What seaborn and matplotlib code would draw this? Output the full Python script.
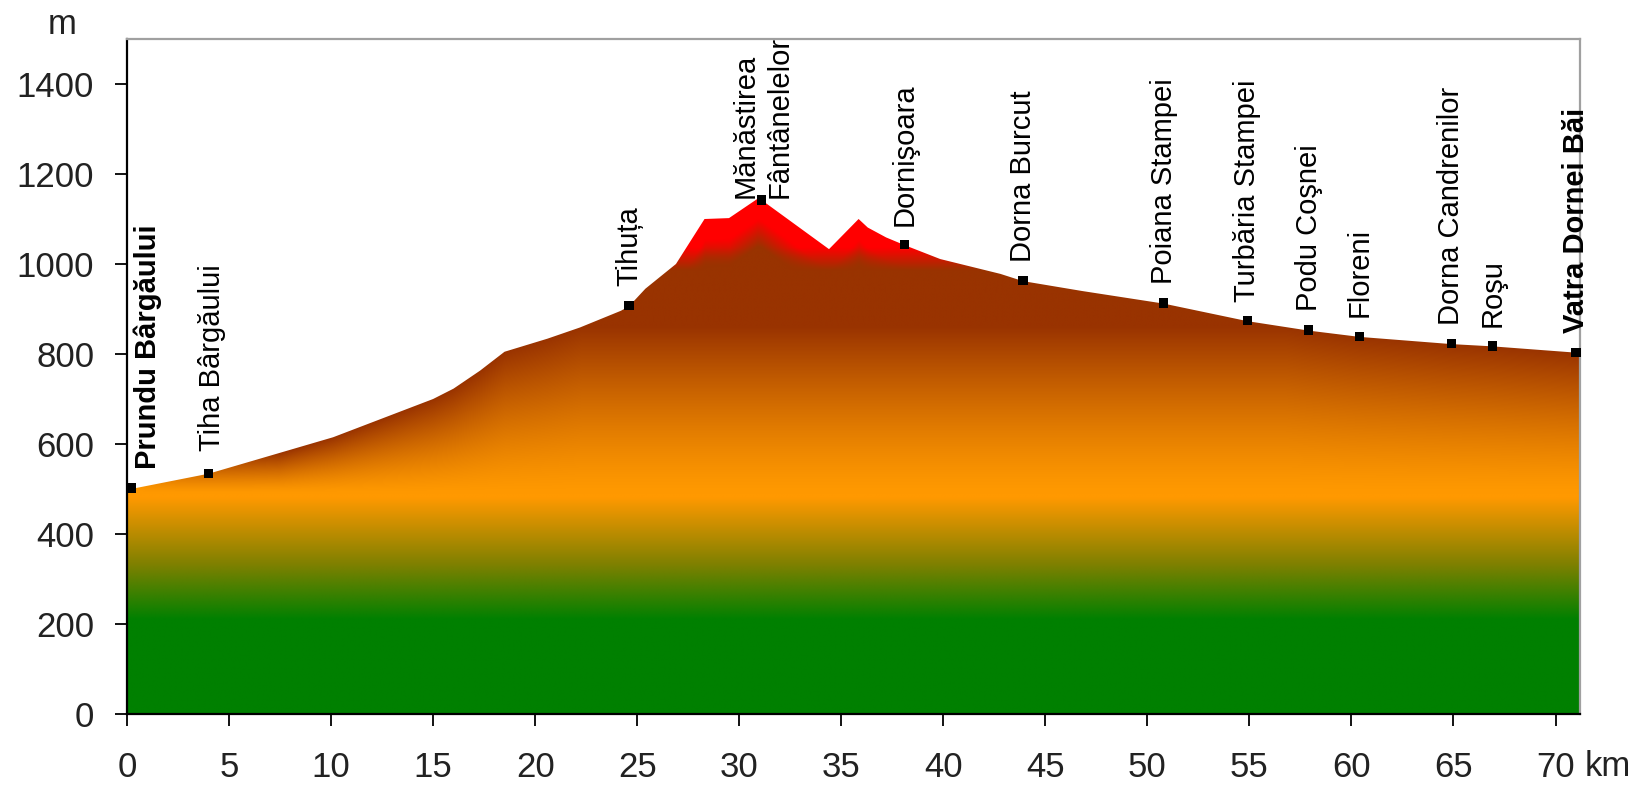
import numpy as np
import matplotlib
matplotlib.use("Agg")
import matplotlib.pyplot as plt
import seaborn as sns

# elevation profile (km, m)
profile_km = [0, 0.2, 4.0, 10.1, 15.0, 16.0, 17.3, 18.5, 20.6, 22.2, 24.2, 24.6,
              25.4, 26.9, 28.3, 29.5, 30.9, 31.1, 34.4, 35.85, 36.3, 37.2, 38.1,
              39.85, 42.8, 43.9, 46.8, 50.8, 54.9, 57.9, 60.4, 64.9, 66.9, 71.0, 71.2]
profile_elev = [497, 500, 534, 615, 700, 723, 763, 805, 834, 859, 896, 906,
                945, 1000, 1100, 1102, 1145, 1142, 1033, 1100, 1081, 1059, 1042,
                1011, 978, 962, 940, 912, 873, 852, 838, 822, 817, 803, 802]

# stations along the road
station_names = ["Prundu Bârgăului", "Tiha Bârgăului", "Tihuța",
                 "Mănăstirea\nFântânelelor", "Dornişoara", "Dorna Burcut",
                 "Poiana Stampei", "Turbăria Stampei", "Podu Coşnei", "Floreni",
                 "Dorna Candrenilor", "Roşu", "Vatra Dornei Băi"]
station_km = [0.2, 4.0, 24.6, 31.1, 38.1, 43.9, 50.8, 54.9, 57.9, 60.4, 64.9, 66.9, 71.0]
station_elev = [502, 535, 908, 1142, 1043, 963, 913, 874, 853, 839, 823, 818, 804]
bold_stations = ["Prundu Bârgăului", "Vatra Dornei Băi"]

x_ticks = [0, 5, 10, 15, 20, 25, 30, 35, 40, 45, 50, 55, 60, 65, 70]
y_ticks = [0, 200, 400, 600, 800, 1000, 1200, 1400]

sns.set_style("ticks")
plt.rcParams["font.family"] = ["Liberation Sans", "DejaVu Sans"]

fig = plt.figure(figsize=(16.35, 7.86), dpi=100)
ax = fig.add_axes([127 / 1635, 72 / 786, 1453 / 1635, 675 / 786])

XMAX, YMAX = 71.2, 1500

# colour shading: green at the bottom, orange, brown near the ground, red on the peaks
xs = np.linspace(0, XMAX, 1200)
es = np.linspace(0, YMAX, 1500)
E = np.repeat(es[:, None], len(xs), axis=1)
S = np.interp(xs, profile_km, profile_elev)[None, :]
D = S - E  # depth below the ground line

green = np.array([0, 128, 0]) / 255
olive = np.array([125, 128, 0]) / 255
orange = np.array([255, 153, 0]) / 255
brown = np.array([153, 51, 0]) / 255
red = np.array([255, 0, 0]) / 255


def mix(c1, c2, t):
    t = np.clip(t, 0, 1)[..., None]
    return c1 * (1 - t) + c2 * t


col = mix(green, olive, (E - 210) / 120)
col = mix(col, orange, (E - 330) / 150)
top = np.minimum(S, 860)
b = np.clip((E - 490) / np.maximum(top - 490, 1), 0, 1) ** 1.3 * np.clip((S - 500) / 80, 0, 1)
col = mix(col, brown, b)
r = np.clip((E - 985) / 50, 0, 1) * np.clip(1.8 - D / 60, 0, 1)
col = mix(col, red, r)

im = ax.imshow(col, extent=[0, XMAX, 0, YMAX], origin="lower", aspect="auto",
               interpolation="bilinear", zorder=1)
ground = ax.fill_between(profile_km, profile_elev, 0, facecolor="none", edgecolor="none")
im.set_clip_path(ground.get_paths()[0], transform=ax.transData)

sns.scatterplot(x=station_km, y=station_elev, marker="s", s=45, color="black",
                edgecolor="none", ax=ax, zorder=5, clip_on=False, legend=False)

# label placement tweaks (pixels)
label_offsets = {"Prundu Bârgăului": (17, 19), "Tiha Bârgăului": (3, 22),
                 "Mănăstirea\nFântânelelor": (1, 2)}
for name, km, el in zip(station_names, station_km, station_elev):
    dx, dy = label_offsets.get(name, (0, 19))
    ax.annotate(name, (km, el), xytext=(dx, dy), textcoords="offset pixels",
                rotation=90, ha="center", va="bottom", fontsize=21,
                fontweight="bold" if name in bold_stations else "normal",
                multialignment="left", linespacing=1.3, color="black",
                annotation_clip=False, zorder=6)

ax.set_xlim(0, XMAX)
ax.set_ylim(0, YMAX)
ax.set_xticks(x_ticks)
ax.set_yticks(y_ticks)
ax.tick_params(axis="both", direction="out", length=8.6, width=1.3,
               labelsize=25, colors="black", labelcolor="#222222")
ax.tick_params(axis="x", pad=18)
ax.tick_params(axis="y", pad=15)
ax.set_xlabel("")
ax.set_ylabel("")

for side in ["left", "bottom"]:
    ax.spines[side].set_color("black")
    ax.spines[side].set_linewidth(1.6)
for side in ["top", "right"]:
    ax.spines[side].set_color("#a0a0a0")
    ax.spines[side].set_linewidth(1.6)

fig.text(62 / 1635, 1 - 25 / 786, "m", fontsize=25, ha="center", va="center", color="#222222")
fig.text(1608 / 1635, 1 - 766 / 786, "km", fontsize=25, ha="center", va="center", color="#222222")

fig.savefig("out.png", dpi=100)
